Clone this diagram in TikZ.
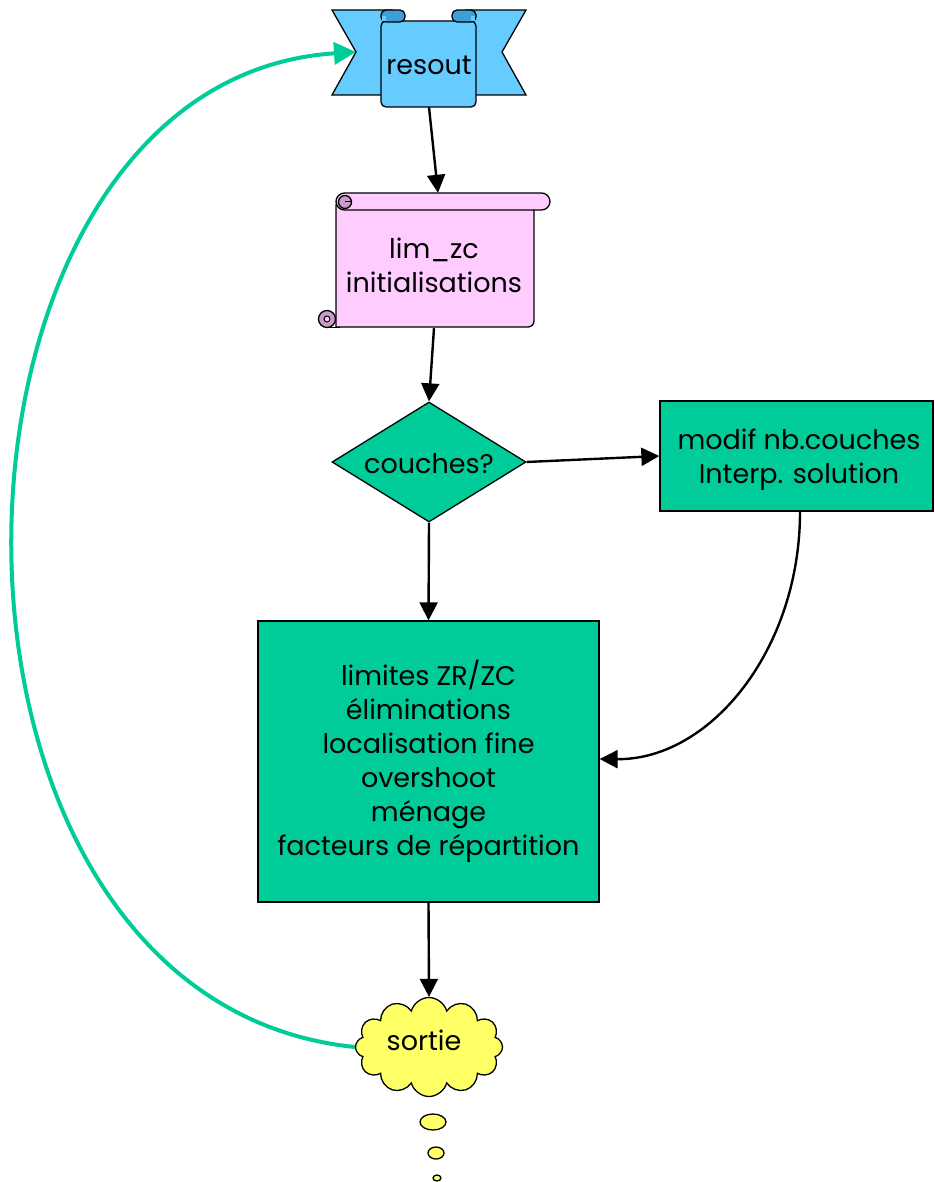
\documentclass[tikz,border=0pt]{standalone}
\usepackage{fontspec}
\setmainfont{Poppins}
\usetikzlibrary{arrows.meta,shapes.geometric,shapes.symbols}
\definecolor{bannerblue}{HTML}{66CCFF}
\definecolor{rolldark}{HTML}{3D9FD6}
\definecolor{scrollpink}{HTML}{FFCCFF}
\definecolor{rollpurple}{HTML}{CC99CC}
\definecolor{procgreen}{HTML}{00CC99}
\definecolor{cloudyellow}{HTML}{FFFF66}
\newcommand{\chartfont}{\fontsize{27}{34}\selectfont}
\tikzset{
  outline/.style={draw=black,line width=1.3pt},
  label/.style={inner sep=0pt,align=center,font=\chartfont},
  procbox/.style={outline,fill=procgreen,inner sep=0pt,align=center,font=\chartfont},
  flow/.style={line width=2.4pt,-{Triangle[length=18pt,width=18pt]}},
  loopback/.style={line width=4pt,draw=procgreen,-{Triangle[length=22pt,width=22pt]}}
}
\begin{document}
\begin{tikzpicture}[x=1pt,y=-1pt]
\useasboundingbox (0,0) rectangle (934,1182);

% --- banner "resout" ---
\draw[outline,fill=bannerblue,line join=miter] (332,10) -- (392,10) -- (392,95) -- (332,95) -- (356,52) -- cycle;
\draw[outline,fill=bannerblue,line join=miter] (526,10) -- (466,10) -- (466,95) -- (526,95) -- (502,52) -- cycle;
\draw[outline,fill=bannerblue,rounded corners=5pt] (381,21) -- (381,107) -- (476,107) -- (476,21) -- cycle;
\draw[outline,fill=rolldark,rounded corners=5pt] (381,10) rectangle (405,22);
\draw[outline,fill=rolldark,rounded corners=5pt] (452,10) rectangle (476,22);
\fill[bannerblue] (382,16) rectangle (386,21);
\fill[bannerblue] (471,16) rectangle (475,21);
\node[inner sep=0pt,minimum width=95pt,minimum height=86pt] (resout) at (429,64) {};
\node[label] (resouttxt) at (429,65) {resout};
\coordinate (resoutnotch) at (356,52);

% --- scroll "lim_zc" ---
\draw[outline,fill=scrollpink] (336,205) -- (336,327) {[rounded corners=6pt] -- (534,327) -- (534,205)} -- cycle;
\draw[outline,fill=scrollpink,rounded corners=8.5pt] (336,193) rectangle (550,210);
\draw[outline,fill=rollpurple] (345,202) circle[radius=6.5pt];
\draw[line width=1pt] (345,202) -- (351,202);
\draw[outline,fill=rollpurple] (327,319) circle[radius=8.5pt];
\draw[line width=1pt,fill=scrollpink] (327,319) circle[radius=3pt];
\draw[line width=1.3pt] (327,327.5) -- (340,327.5);
\node[inner sep=0pt,minimum width=200pt,minimum height=135pt] (lim) at (434,260.5) {};
\node[label] (limtxt) at (434,265) {lim\_zc\\initialisations};

% --- decision ---
\node[outline,fill=procgreen,diamond,inner sep=0pt,minimum width=194pt,minimum height=120pt] (couches) at (429,462) {};
\node[label] (couchestxt) at (429,464) {couches?};

% --- process boxes ---
\node[procbox,minimum width=273pt,minimum height=110pt] (modif) at (796.5,456) {};
\node[label] (modiftxt) at (799,460) {modif nb.couches\\Interp. solution};
\node[procbox,minimum width=341pt,minimum height=281pt] (traite) at (428.5,761.5)
  {limites ZR/ZC\\éliminations\\localisation fine\\overshoot\\ménage\\facteurs de répartition};

% --- exit cloud ---
\node[cloud,cloud puffs=12,aspect=1.5,outline,fill=cloudyellow,inner sep=0pt,
      minimum width=147pt,minimum height=99pt] (sortie) at (429,1047) {};
\node[label] (sortietxt) at (424,1040) {sortie};
\draw[outline,fill=cloudyellow] (433,1122) ellipse[x radius=13pt,y radius=8pt];
\draw[outline,fill=cloudyellow] (436,1153) ellipse[x radius=8pt,y radius=6pt];
\draw[outline,fill=cloudyellow] (437,1178) ellipse[x radius=4pt,y radius=3pt];

% --- connectors ---
\draw[flow] (resout.south) -- ([xshift=4pt]lim.north);
\draw[flow] (lim.south) -- (couches.north);
\draw[flow] (couches.east) -- (modif.west);
\draw[flow] (couches.south) -- (traite.north);
\draw[flow] ([xshift=3.5pt]modif.south) .. controls (800,650) and (710,760) .. ([yshift=2.5pt]traite.east);
\draw[flow] (traite.south) -- (sortie.north);
\draw[loopback] (sortie.west) .. controls (-110,1000) and (-90,80) .. (resoutnotch);
\end{tikzpicture}
\end{document}
